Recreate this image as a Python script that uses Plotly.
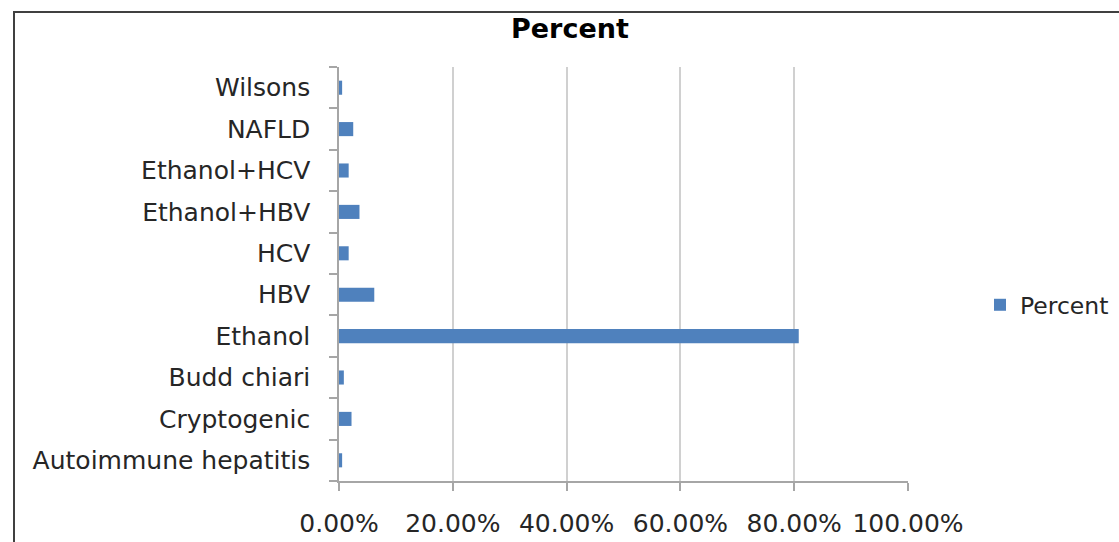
import plotly.graph_objects as go

# Aetiology of cases, percent of total
categories = ["Autoimmune hepatitis", "Cryptogenic", "Budd chiari", "Ethanol", "HBV",
              "HCV", "Ethanol+HBV", "Ethanol+HCV", "NAFLD", "Wilsons"]
percent = [0.55, 2.2, 0.85, 80.8, 6.2, 1.7, 3.6, 1.7, 2.5, 0.55]
x_ticks = [0, 20, 40, 60, 80, 100]
x_tick_labels = ["0.00%", "20.00%", "40.00%", "60.00%", "80.00%", "100.00%"]

FONT = "DejaVu Sans"
BAR = "#4F81BD"
TEXT = "#262626"

fig = go.Figure()
fig.add_trace(go.Bar(
    x=percent, y=categories, orientation="h", name="Percent",
    marker=dict(color=BAR, line=dict(width=0)),
    showlegend=True,
))

W, H = 1119, 542
L, R, T, B = 339, 211, 67, 61
pw, ph = W - L - R, H - T - B

def px(x):
    return (x - L) / pw

def py(y):
    return (H - B - y) / ph

fig.update_layout(
    width=W, height=H,
    margin=dict(l=L, r=R, t=T, b=B, autoexpand=False),
    paper_bgcolor="white", plot_bgcolor="white",
    bargap=0.66,
    font=dict(family=FONT, size=25, color=TEXT),
    showlegend=True,
    legend=dict(x=px(980), y=py(305), xanchor="left", yanchor="middle",
                font=dict(family=FONT, size=23.5, color=TEXT),
                bgcolor="rgba(0,0,0,0)", itemwidth=30),
    xaxis=dict(
        range=[0, 100], tickmode="array", tickvals=x_ticks, ticktext=x_tick_labels,
        showgrid=True, gridcolor="#D0D0D0", gridwidth=1.5,
        showline=True, linecolor="#A6A6A6", linewidth=1.5,
        ticks="outside", ticklen=8, tickcolor="#A6A6A6", tickwidth=1.5,
        ticklabelstandoff=11, zeroline=False, fixedrange=True, automargin=False,
    ),
    yaxis=dict(
        type="category", categoryorder="array", categoryarray=categories,
        tickson="boundaries", showgrid=False,
        showline=True, linecolor="#A6A6A6", linewidth=1.5,
        ticks="outside", ticklen=8, tickcolor="#A6A6A6", tickwidth=1.5,
        ticklabelstandoff=22, fixedrange=True, automargin=False,
    ),
    annotations=[dict(
        text="<b>Percent</b>", x=px(570), y=py(28), xref="paper", yref="paper",
        xanchor="center", yanchor="middle", showarrow=False,
        font=dict(family=FONT, size=27, color="#000000"),
    )],
    shapes=[dict(
        type="rect", xref="paper", yref="paper",
        x0=px(14), x1=px(1130), y0=py(12), y1=py(560),
        line=dict(color="#404040", width=2), fillcolor="rgba(0,0,0,0)", layer="below",
    )],
)

fig.write_html("out.html")
